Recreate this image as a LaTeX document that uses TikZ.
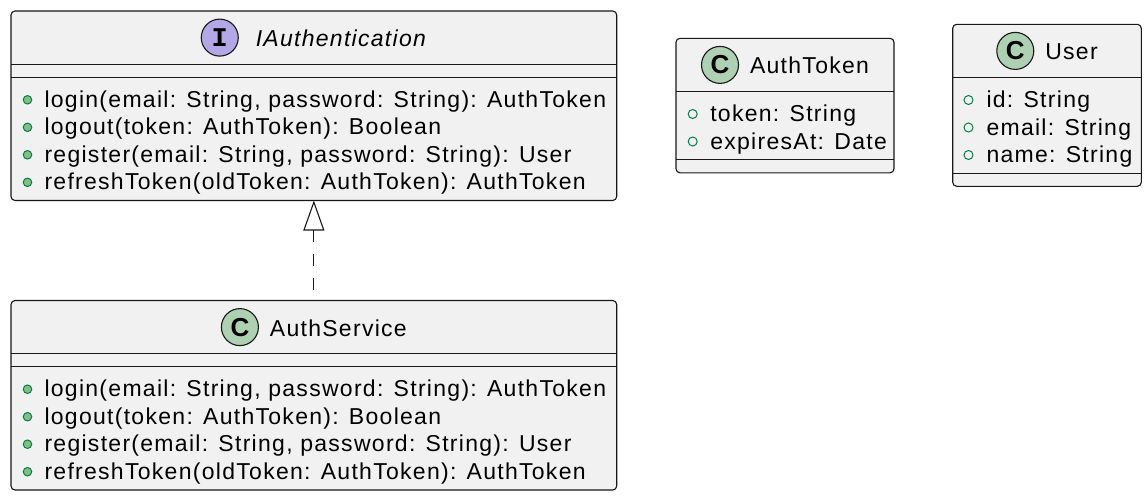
\documentclass[tikz,border=0pt]{standalone}
\usepackage{fontspec}
\setmainfont{Liberation Sans}[LetterSpace=5.6]
\newfontfamily\iconfont{Liberation Sans}
\newfontfamily\iconmono{Liberation Mono}
\usetikzlibrary{calc,arrows.meta}
\definecolor{boxfill}{HTML}{F1F1F1}
\definecolor{boxline}{HTML}{181818}
\definecolor{classicon}{HTML}{ADD1B2}
\definecolor{ifaceicon}{HTML}{B4A7E5}
\definecolor{pubfill}{HTML}{84BE84}
\definecolor{publine}{HTML}{038048}
\tikzset{
  umlbox/.style={draw=boxline, fill=boxfill, line width=1.1pt, rounded corners=4pt,
    inner sep=0pt, outer sep=0pt, anchor=north west},
  sepline/.style={draw=boxline, line width=1pt},
  titletext/.style={anchor=base, inner sep=0pt, outer sep=0pt, font=\fontsize{23}{27.5}\selectfont},
  membertext/.style={anchor=base west, inner sep=0pt, outer sep=0pt, font=\fontsize{23}{27.5}\selectfont},
  classcircle/.style={circle, draw=boxline, fill=classicon, line width=1.1pt, minimum size=37pt,
    inner sep=0pt, font=\iconfont\bfseries\fontsize{26}{26}\selectfont},
  ifacecircle/.style={circle, draw=boxline, fill=ifaceicon, line width=1.1pt, minimum size=37pt,
    inner sep=0pt, font=\iconmono\bfseries\fontsize{27}{27}\selectfont},
  methodicon/.style={circle, draw=publine, fill=pubfill, line width=1pt, minimum size=8.5pt, inner sep=0pt},
  fieldicon/.style={circle, draw=publine, line width=1pt, minimum size=9pt, inner sep=0pt},
  realize/.style={draw=boxline, line width=1.1pt, dash pattern=on 12pt off 12pt},
}
\begin{document}
\begin{tikzpicture}[x=1pt,y=-1pt]
\fill[white] (0,0) rectangle (1148,496);
\useasboundingbox (0,0) rectangle (1148,496);

% ---------- IAuthentication ----------
\node[umlbox, minimum width=605.7pt, minimum height=189.5pt] (ia) at (11,11) {};
\draw[sepline] ($(ia.north west)+(0,53.2)$) -- ($(ia.north east)+(0,53.2)$);
\draw[sepline] ($(ia.north west)+(0,66.2)$) -- ($(ia.north east)+(0,66.2)$);
\node[titletext] (iat) at (341.5,46.5) {\textit{IAuthentication}};
\node[ifacecircle] (iai) at ($(iat.base west)+(-36,-8.9)$) {I};
\node[methodicon] (iam1d) at (27.5,99.8) {};
\node[methodicon] (iam2d) at (27.5,127.3) {};
\node[methodicon] (iam3d) at (27.5,154.8) {};
\node[methodicon] (iam4d) at (27.5,182.3) {};
\node[membertext] (iam1) at (44.5,107.3) {login(email: String, password: String): AuthToken};
\node[membertext] (iam2) at (44.5,134.8) {logout(token: AuthToken): Boolean};
\node[membertext] (iam3) at (44.5,162.3) {register(email: String, password: String): User};
\node[membertext] (iam4) at (44.5,189.8) {refreshToken(oldToken: AuthToken): AuthToken};

% ---------- AuthService ----------
\node[umlbox, minimum width=605.7pt, minimum height=189.5pt] (as) at (11,300.5) {};
\draw[sepline] ($(as.north west)+(0,53.2)$) -- ($(as.north east)+(0,53.2)$);
\draw[sepline] ($(as.north west)+(0,66.2)$) -- ($(as.north east)+(0,66.2)$);
\node[titletext] (ast) at (338.35,336) {AuthService};
\node[classcircle] (asi) at ($(ast.base west)+(-30,-8.9)$) {C};
\node[methodicon] (asm1d) at (27.5,389.2) {};
\node[methodicon] (asm2d) at (27.5,416.7) {};
\node[methodicon] (asm3d) at (27.5,444.2) {};
\node[methodicon] (asm4d) at (27.5,471.7) {};
\node[membertext] (asm1) at (44.5,396.7) {login(email: String, password: String): AuthToken};
\node[membertext] (asm2) at (44.5,424.2) {logout(token: AuthToken): Boolean};
\node[membertext] (asm3) at (44.5,451.7) {register(email: String, password: String): User};
\node[membertext] (asm4) at (44.5,479.2) {refreshToken(oldToken: AuthToken): AuthToken};

% ---------- AuthToken ----------
\node[umlbox, minimum width=218pt, minimum height=134.5pt] (at) at (676,38.3) {};
\draw[sepline] ($(at.north west)+(0,53.2)$) -- ($(at.north east)+(0,53.2)$);
\draw[sepline] ($(at.north west)+(0,121.5)$) -- ($(at.north east)+(0,121.5)$);
\node[titletext] (att) at (809.5,73.8) {AuthToken};
\node[classcircle] (ati) at ($(att.base west)+(-30,-8.9)$) {C};
\node[fieldicon] (atf1d) at (692.7,114) {};
\node[fieldicon] (atf2d) at (692.7,141.5) {};
\node[membertext] (atf1) at (710.3,121.5) {token: String};
\node[membertext] (atf2) at (710.3,149) {expiresAt: Date};

% ---------- User ----------
\node[umlbox, minimum width=188.6pt, minimum height=162pt] (us) at (952.7,24.3) {};
\draw[sepline] ($(us.north west)+(0,53.2)$) -- ($(us.north east)+(0,53.2)$);
\draw[sepline] ($(us.north west)+(0,149)$) -- ($(us.north east)+(0,149)$);
\node[titletext] (ust) at (1071.5,59.8) {User};
\node[classcircle] (usi) at ($(ust.base west)+(-30,-8.9)$) {C};
\node[fieldicon] (usf1d) at (968.5,100) {};
\node[fieldicon] (usf2d) at (968.5,127.5) {};
\node[fieldicon] (usf3d) at (968.5,155) {};
\node[membertext] (usf1) at (986.5,107.5) {id: String};
\node[membertext] (usf2) at (986.5,135) {email: String};
\node[membertext] (usf3) at (986.5,162.5) {name: String};

% ---------- realization ----------
\draw[realize, {Triangle[open, length=30pt, width=21pt]}-] (ia.south) -- (as.north);
\end{tikzpicture}
\end{document}
